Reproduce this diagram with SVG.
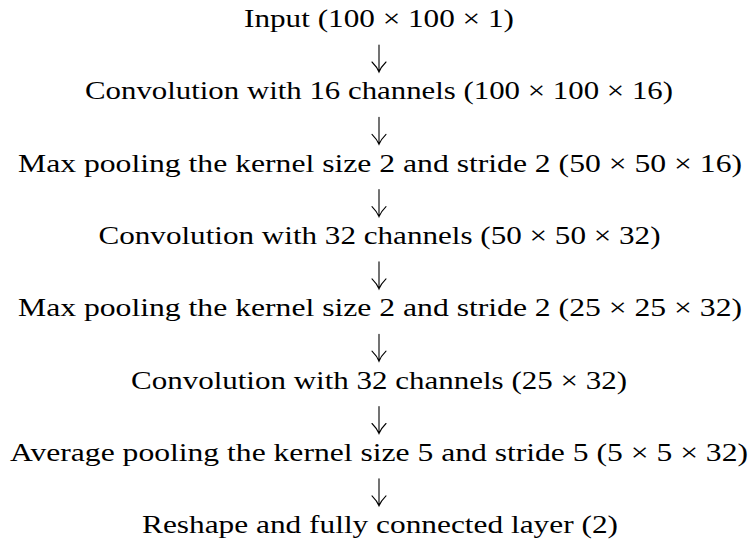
<svg xmlns="http://www.w3.org/2000/svg" width="752" height="542" viewBox="0 0 752 542">
<style>
  .t { font-family: "Liberation Serif", "Times New Roman", serif; font-size: 26px; fill: #000; text-anchor: middle; }
  .arr { fill: none; stroke: #000; stroke-width: 1.1; stroke-linecap: round; }
</style>
<rect width="752" height="542" fill="#fff"/>
<g id="n1"><text class="t" x="379" y="27" textLength="270" lengthAdjust="spacingAndGlyphs">Input (100 × 100 × 1)</text></g>
<g id="n2"><text class="t" x="379" y="99.3" textLength="588" lengthAdjust="spacingAndGlyphs">Convolution with 16 channels (100 × 100 × 16)</text></g>
<g id="n3"><text class="t" x="380" y="171.6" textLength="724" lengthAdjust="spacingAndGlyphs">Max pooling the kernel size 2 and stride 2 (50 × 50 × 16)</text></g>
<g id="n4"><text class="t" x="379.5" y="243.9" textLength="562" lengthAdjust="spacingAndGlyphs">Convolution with 32 channels (50 × 50 × 32)</text></g>
<g id="n5"><text class="t" x="380" y="316.2" textLength="724" lengthAdjust="spacingAndGlyphs">Max pooling the kernel size 2 and stride 2 (25 × 25 × 32)</text></g>
<g id="n6"><text class="t" x="379" y="388.5" textLength="496" lengthAdjust="spacingAndGlyphs">Convolution with 32 channels (25 × 32)</text></g>
<g id="n7"><text class="t" x="379" y="460.8" textLength="738" lengthAdjust="spacingAndGlyphs">Average pooling the kernel size 5 and stride 5 (5 × 5 × 32)</text></g>
<g id="n8"><text class="t" x="380" y="533.1" textLength="476" lengthAdjust="spacingAndGlyphs">Reshape and fully connected layer (2)</text></g>
<defs>
  <path id="down" d="M0,0 V27 M-7,17 C-4,20 -1.5,23 0,27 C1.5,23 4,20 7,17"/>
</defs>
<g id="connectors" class="arr">
  <use href="#down" x="379" y="45"/>
  <use href="#down" x="379" y="117.3"/>
  <use href="#down" x="379" y="189.6"/>
  <use href="#down" x="379" y="261.9"/>
  <use href="#down" x="379" y="334.2"/>
  <use href="#down" x="379" y="406.5"/>
  <use href="#down" x="379" y="478.8"/>
</g>
</svg>
